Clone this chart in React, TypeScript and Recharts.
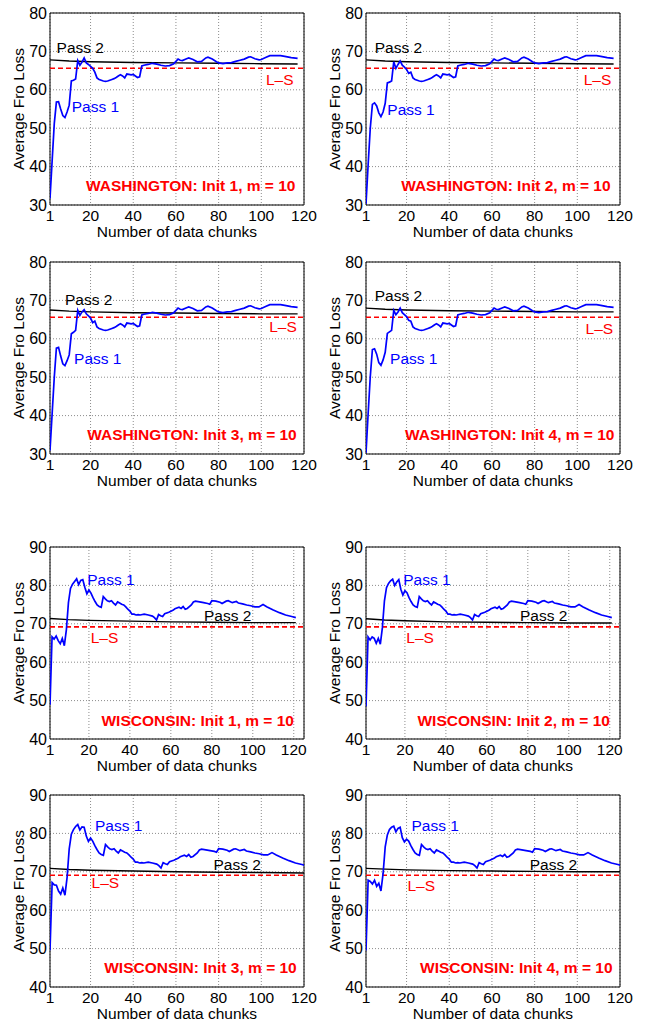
import {
  LineChart, Line, XAxis, YAxis, CartesianGrid,
  ReferenceLine, ReferenceDot, ReferenceArea, Label
} from "recharts";

// chunks 1..21 (early part, read per init)
const headChunks = [1, 2, 3, 4, 5, 6, 7, 8, 9, 10, 11, 12, 13, 14, 15, 16, 17, 18, 19, 20, 21];

// WASHINGTON pass 1, early chunks per init
const waHead1 = [31.7, 41.5, 51.2, 56.8, 56.9, 55.0, 53.3, 52.8, 54.2, 56.0, 62.3, 62.5, 62.8, 67.6, 66.4, 67.2, 68.3, 67.0, 66.6, 66.1, 65.6];
const waHead2 = [30.3, 40.5, 50.0, 56.2, 56.6, 55.8, 54.0, 53.0, 54.2, 56.5, 61.8, 62.0, 62.3, 67.3, 65.6, 66.6, 67.5, 66.4, 65.9, 65.3, 64.3];
const waHead3 = [30.9, 40.5, 50.0, 57.6, 57.8, 55.5, 53.5, 53.0, 54.3, 55.8, 61.3, 61.7, 62.2, 67.4, 66.1, 67.0, 67.6, 66.5, 66.0, 65.4, 64.2];
const waHead4 = [30.3, 40.5, 50.1, 57.2, 57.4, 56.0, 53.8, 53.1, 54.5, 56.5, 61.4, 61.8, 62.2, 67.4, 66.3, 67.0, 68.0, 66.8, 66.3, 65.8, 64.8];

// WASHINGTON pass 1, later chunks (same for all inits)
const waTailX = [22, 23, 24, 25, 26, 27, 28, 29, 30, 31, 32, 33, 34, 35, 36, 37, 38, 39, 40, 41, 42, 43, 44, 45,
  47, 49, 51, 53, 55, 57, 59, 60, 61, 62, 63, 65, 66, 68, 70, 72, 74, 75, 77, 79, 80,
  82, 84, 86, 88, 90, 92, 94, 95, 97, 99, 100, 102, 104, 107, 109, 111, 114, 117];
const waTailY = [64.6, 63.1, 62.7, 62.5, 62.3, 62.2, 62.3, 62.5, 62.7, 62.9, 63.2, 63.6, 63.9, 63.6, 63.1, 64.1, 64.0, 63.9, 64.0, 63.6, 63.2, 63.4, 66.2, 66.4,
  66.6, 66.9, 66.7, 66.4, 66.2, 66.3, 66.8, 67.4, 68.0, 67.7, 67.6, 68.1, 68.3, 67.9, 67.3, 67.4, 68.3, 68.5, 68.0, 67.3, 67.0,
  66.8, 67.0, 67.1, 67.4, 67.7, 68.0, 68.5, 68.6, 68.1, 67.8, 67.9, 68.4, 68.9, 68.9, 68.9, 68.7, 68.4, 68.2];

// WASHINGTON pass 2
const waPass2X = [1, 10, 20, 40, 60, 80, 100, 117];
const waPass2_1 = [67.8, 67.5, 67.3, 67.1, 67.0, 66.9, 66.8, 66.7];
const waPass2_2 = [67.8, 67.5, 67.3, 67.1, 67.0, 66.9, 66.8, 66.7];
const waPass2_3 = [67.5, 67.2, 67.0, 66.8, 66.7, 66.6, 66.5, 66.5];
const waPass2_4 = [68.0, 67.7, 67.5, 67.3, 67.2, 67.1, 67.0, 67.0];
const waLS = 65.6;

// WISCONSIN pass 1, early chunks per init
const wiHead1 = [48.9, 66.6, 66.0, 66.8, 65.6, 64.8, 66.2, 64.3, 68.5, 75.5, 79.2, 80.3, 81.0, 81.7, 80.2, 81.3, 81.5, 79.5, 77.8, 78.8, 78.0];
const wiHead2 = [48.5, 66.6, 65.8, 66.6, 66.2, 64.9, 66.2, 64.7, 69.0, 76.0, 79.4, 80.5, 81.2, 81.6, 80.0, 80.9, 81.5, 79.0, 77.5, 78.6, 78.1];
const wiHead3 = [49.6, 67.2, 66.6, 66.5, 65.0, 64.2, 65.8, 63.9, 68.5, 76.0, 79.8, 81.0, 81.8, 82.3, 80.9, 81.7, 81.6, 79.3, 77.9, 78.8, 78.0];
const wiHead4 = [49.5, 67.8, 67.5, 66.8, 67.8, 66.2, 67.0, 65.0, 69.5, 76.5, 79.6, 81.0, 81.6, 81.9, 80.4, 81.3, 81.6, 78.9, 77.8, 78.5, 78.0];

// WISCONSIN pass 1, later chunks
const wiTailX = [22, 23, 24, 25, 26, 27, 28, 29, 30, 31, 32, 33, 34, 35, 36, 37, 38, 39, 40, 41, 42, 43, 44, 45,
  47, 49, 51, 52, 53, 54, 55, 56, 57, 59, 61, 62, 64, 65, 66, 67, 68, 70, 71, 72,
  74, 76, 78, 79, 80, 82, 84, 85, 87, 88, 90, 92, 93, 95, 97, 99, 101, 103, 105, 107,
  110, 113, 116, 119, 121];
const wiTailY = [76.8, 75.8, 74.9, 74.5, 74.3, 77.1, 76.5, 76.0, 75.8, 76.0, 75.4, 74.9, 75.7, 75.4, 75.1, 74.9, 74.4, 73.8, 73.3, 72.5, 72.5, 72.3, 72.4, 72.3,
  72.5, 72.3, 72.0, 71.6, 71.0, 72.4, 72.1, 71.9, 72.6, 73.0, 73.5, 73.9, 74.3, 74.0, 74.5, 73.8, 74.0, 74.9, 75.7, 75.9,
  75.7, 75.5, 75.3, 75.1, 76.0, 75.9, 75.6, 75.3, 75.9, 76.0, 75.5, 75.8, 75.4, 75.2, 74.9, 74.7, 74.4, 74.4, 75.0, 74.4,
  73.6, 72.9, 72.3, 71.9, 71.6];

// WISCONSIN pass 2
const wiPass2X = [1, 10, 20, 40, 60, 80, 100, 121];
const wiPass2_1 = [71.4, 71.1, 70.9, 70.7, 70.5, 70.4, 70.3, 70.3];
const wiPass2_2 = [71.3, 71.0, 70.8, 70.5, 70.4, 70.3, 70.2, 70.2];
const wiPass2_3 = [70.9, 70.6, 70.4, 70.2, 70.0, 69.9, 69.8, 69.7];
const wiPass2_4 = [70.9, 70.7, 70.5, 70.3, 70.2, 70.1, 70.0, 70.0];
const wiLS = [69.2, 69.2, 69.1, 69.1];

const xTicks = [1, 20, 40, 60, 80, 100, 120];
const waYTicks = [30, 40, 50, 60, 70, 80];
const wiYTicks = [40, 50, 60, 70, 80, 90];

const FONT = "'Liberation Sans', Arial, Helvetica, sans-serif";
const BLUE = "#0000ff";
const RED = "#ff0000";

type Pt = [number, number];

interface PanelDef {
  title: string;
  head: number[];
  tailX: number[];
  tailY: number[];
  p2x: number[];
  p2y: number[];
  ls: number;
  yTicks: number[];
  xMax: number;
  left: number;
  top: number;
  pass1At: Pt;
  pass2At: Pt;
  lsAt: Pt;
  lsAnchor: "left" | "right";
  titleAt: Pt;
}

const panels: PanelDef[] = [
  { title: "WASHINGTON: Init 1, m = 10", head: waHead1, tailX: waTailX, tailY: waTailY, p2x: waPass2X, p2y: waPass2_1, ls: waLS, yTicks: waYTicks, xMax: 120, left: 50, top: 13,
    pass1At: [11.2, 55.6], pass2At: [4.1, 70.9], lsAt: [115.1, 62.8], lsAnchor: "left", titleAt: [116, 35.1] },
  { title: "WASHINGTON: Init 2, m = 10", head: waHead2, tailX: waTailX, tailY: waTailY, p2x: waPass2X, p2y: waPass2_2, ls: waLS, yTicks: waYTicks, xMax: 120, left: 366, top: 13,
    pass1At: [11, 54.8], pass2At: [5.1, 71.1], lsAt: [115.9, 62.8], lsAnchor: "left", titleAt: [115.6, 35.1] },
  { title: "WASHINGTON: Init 3, m = 10", head: waHead3, tailX: waTailX, tailY: waTailY, p2x: waPass2X, p2y: waPass2_3, ls: waLS, yTicks: waYTicks, xMax: 120, left: 50, top: 262,
    pass1At: [12.3, 54.8], pass2At: [8, 70.3], lsAt: [116.6, 63.2], lsAnchor: "left", titleAt: [116.6, 35.0] },
  { title: "WASHINGTON: Init 4, m = 10", head: waHead4, tailX: waTailX, tailY: waTailY, p2x: waPass2X, p2y: waPass2_4, ls: waLS, yTicks: waYTicks, xMax: 120, left: 366, top: 262,
    pass1At: [12.3, 54.8], pass2At: [5.1, 71.2], lsAt: [116.8, 62.7], lsAnchor: "left", titleAt: [117.4, 35.2] },
  { title: "WISCONSIN: Init 1, m = 10", head: wiHead1, tailX: wiTailX, tailY: wiTailY, p2x: wiPass2X, p2y: wiPass2_1, ls: wiLS[0], yTicks: wiYTicks, xMax: 125, left: 50, top: 547,
    pass1At: [19.2, 81.6], pass2At: [76.2, 72.1], lsAt: [20.9, 66.5], lsAnchor: "right", titleAt: [120.1, 44.8] },
  { title: "WISCONSIN: Init 2, m = 10", head: wiHead2, tailX: wiTailX, tailY: wiTailY, p2x: wiPass2X, p2y: wiPass2_2, ls: wiLS[1], yTicks: wiYTicks, xMax: 125, left: 366, top: 547,
    pass1At: [19.2, 81.6], pass2At: [76.2, 72.1], lsAt: [20.7, 66.5], lsAnchor: "right", titleAt: [120.1, 44.8] },
  { title: "WISCONSIN: Init 3, m = 10", head: wiHead3, tailX: wiTailX, tailY: wiTailY, p2x: wiPass2X, p2y: wiPass2_3, ls: wiLS[2], yTicks: wiYTicks, xMax: 120, left: 50, top: 795,
    pass1At: [22.1, 82], pass2At: [77.6, 71.9], lsAt: [20.5, 67.3], lsAnchor: "right", titleAt: [116.6, 45.2] },
  { title: "WISCONSIN: Init 4, m = 10", head: wiHead4, tailX: wiTailX, tailY: wiTailY, p2x: wiPass2X, p2y: wiPass2_4, ls: wiLS[3], yTicks: wiYTicks, xMax: 120, left: 366, top: 795,
    pass1At: [22.3, 82], pass2At: [77.7, 71.9], lsAt: [20.4, 66.5], lsAnchor: "right", titleAt: [116.5, 45.2] },
];

const W = 324;
const H = 250;
const PLOT_W = 254;

function Note({ at, text, color, anchor, bold }: { at: Pt; text: string; color: string; anchor: "left" | "right"; bold?: boolean }) {
  return (
    <ReferenceDot
      x={at[0]}
      y={at[1]}
      r={0}
      fill="none"
      stroke="none"
      label={{
        value: text,
        position: anchor,
        offset: 0,
        fill: color,
        fontSize: 15.5,
        fontWeight: bold ? "bold" : "normal",
        fontFamily: FONT,
      }}
    />
  );
}

function Panel({ p }: { p: PanelDef }) {
  const pass1 = [
    ...headChunks.map((x, i) => ({ x, y: p.head[i] })),
    ...p.tailX.map((x, i) => ({ x, y: p.tailY[i] })),
  ];
  const pass2 = p.p2x.map((x, i) => ({ x, y: p.p2y[i] }));
  const yMin = p.yTicks[0];
  const yMax = p.yTicks[p.yTicks.length - 1];

  return (
    <div style={{ position: "absolute", left: p.left - 50, top: p.top - 13 }}>
      <LineChart
        width={W}
        height={H}
        data={pass1}
        margin={{ top: 13, right: W - 50 - PLOT_W, bottom: 8, left: 10 }}
        style={{ fontFamily: FONT }}
      >
        <CartesianGrid stroke="#8c8c8c" strokeDasharray="1 2" />
        <XAxis
          type="number"
          dataKey="x"
          domain={[1, p.xMax]}
          ticks={xTicks}
          interval={0}
          allowDataOverflow
          tickLine={false}
          axisLine={false}
          tickSize={0}
          tickMargin={5}
          height={37}
          tick={{ fill: "#000", fontSize: 15.5, fontFamily: FONT }}
        >
          <Label value="Number of data chunks" position="insideBottom" offset={5} fill="#000" fontSize={15.5} fontFamily={FONT} />
        </XAxis>
        <YAxis
          type="number"
          domain={[yMin, yMax]}
          ticks={p.yTicks}
          interval={0}
          allowDataOverflow
          tickLine={false}
          axisLine={false}
          tickSize={0}
          tickMargin={3}
          width={40}
          tick={{ fill: "#000", fontSize: 16, fontFamily: FONT }}
        >
          <Label
            value="Average Fro Loss"
            angle={-90}
            position="insideLeft"
            offset={8}
            fill="#000"
            fontSize={15.5}
            fontFamily={FONT}
            style={{ textAnchor: "middle" }}
          />
        </YAxis>
        <ReferenceLine y={p.ls} stroke={RED} strokeWidth={1.6} strokeDasharray="5 3" />
        <Line data={pass2} dataKey="y" type="linear" stroke="#000" strokeWidth={1.4} dot={false} isAnimationActive={false} />
        <Line dataKey="y" type="linear" stroke={BLUE} strokeWidth={1.7} dot={false} isAnimationActive={false} />
        <ReferenceArea x1={1} x2={p.xMax} y1={yMin} y2={yMax} fill="none" stroke="#000" strokeWidth={1} ifOverflow="visible" />
        <Note at={p.pass2At} text="Pass 2" color="#000" anchor="right" />
        <Note at={p.pass1At} text="Pass 1" color={BLUE} anchor="right" />
        <Note at={p.lsAt} text="L–S" color={RED} anchor={p.lsAnchor} />
        <Note at={p.titleAt} text={p.title} color={RED} anchor="left" bold />
      </LineChart>
    </div>
  );
}

export default function App() {
  return (
    <div style={{ position: "absolute", left: 0, top: 0, width: 648, height: 1023, background: "#fff" }}>
      {panels.map((p, i) => (
        <Panel key={i} p={p} />
      ))}
    </div>
  );
}
